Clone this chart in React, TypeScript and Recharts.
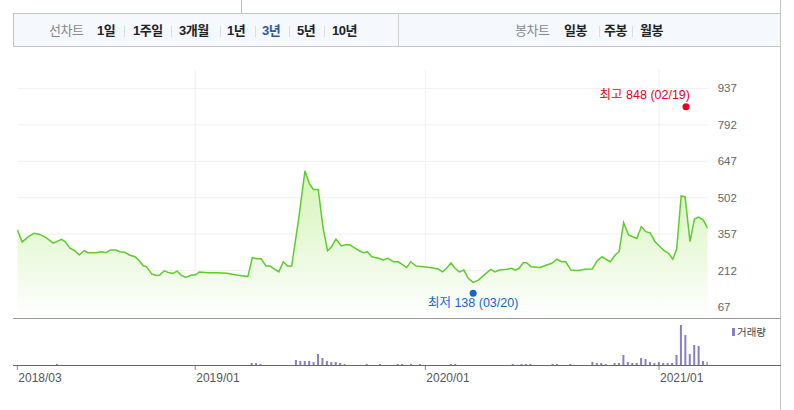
import React from 'react';
import { ComposedChart, Area, Bar, XAxis, YAxis, CartesianGrid, ReferenceDot } from 'recharts';

// price line: week index since 2018/03 start, weekly close
const weeks = [
  0, 1.1, 2.5, 3.8, 5.1, 6.5, 8.1, 10, 10.8, 11.9,
  13, 14, 15.1, 16, 17.6, 19.1, 20, 21.1, 22.3, 23.2,
  24.3, 25.3, 26.6, 27.6, 28.5, 29.2, 30.4, 31.5, 32.2, 33.2,
  34.3, 35.2, 36.1, 37, 38.1, 39.4, 40.2, 41.1, 43.2, 45.4,
  47.3, 49.9, 52.1, 53.1, 54.1, 55.1, 56.2, 57.1, 58.2, 59.1,
  60.1, 61.1, 62, 63.6, 65, 66, 66.9, 68, 69.1, 70.1,
  71, 72, 73.2, 74.3, 75.2, 76.3, 77.4, 78.2, 79.1, 80.1,
  81.6, 82.7, 83.8, 85, 86.1, 88, 88.9, 90.1, 91.8, 93.6,
  95.1, 96.1, 97, 98, 98.9, 99.9, 100.9, 101.9, 103, 104.2,
  105.7, 107, 107.9, 108.9, 110.6, 111.7, 112.5, 113.4, 114.3, 115.1,
  116.1, 118.1, 119.6, 120.8, 121.9, 123, 123.9, 125.1, 126.7, 128.3,
  129.9, 131, 132.1, 133, 134, 135.1, 136, 137, 138.1, 140,
  141, 142, 143, 144.1, 145.2, 146.2, 147.1, 148.1, 149, 150,
  150.9, 152, 153, 153.9, 155, 156,
];
const prices = [
  375, 326, 347, 360, 356, 343, 321, 336, 327, 301,
  291, 274, 291, 283, 283, 287, 283, 294, 294, 287,
  285, 274, 267, 250, 231, 227, 198, 192, 194, 211,
  203, 201, 210, 194, 185, 194, 194, 206, 203, 203,
  201, 193, 188, 263, 259, 259, 230, 230, 217, 207,
  247, 230, 230, 421, 609, 558, 535, 535, 381, 291,
  307, 337, 310, 316, 314, 301, 290, 283, 287, 267,
  261, 254, 261, 247, 247, 224, 247, 230, 227, 223,
  218, 207, 221, 242, 221, 207, 214, 181, 165, 174,
  198, 217, 207, 214, 217, 221, 214, 221, 243, 243,
  227, 224, 234, 241, 257, 247, 247, 214, 212, 217,
  218, 250, 267, 257, 247, 274, 288, 403, 354, 340,
  387, 367, 362, 327, 308, 290, 282, 257, 298, 509,
  505, 327, 417, 425, 413, 380,
];

// volume bars
const volWeeks = [
  9, 53, 54, 55, 63, 64, 65, 66, 67, 68, 69, 70, 71, 72, 73, 74,
  79, 82, 86, 87, 89, 91, 98, 99, 112, 114, 115, 116, 121, 122, 125,
  130, 131, 132, 133, 135, 136, 137, 138, 139, 140, 141, 142, 143, 144,
  145, 146, 147, 148, 149, 150, 151, 152, 153, 154, 155, 156,
];
const volumes = [
  1, 2, 2, 1, 5, 4, 4, 4, 3, 11, 7, 4, 3, 3, 2, 1,
  1, 1, 1, 1, 1, 1, 1, 1, 1, 1, 1, 1, 1, 1, 1,
  3, 2, 2, 1, 2, 2, 10, 3, 2, 2, 7, 6, 3, 2,
  3, 2, 2, 2, 10, 40, 30, 11, 20, 19, 4, 3,
];

const priceTicks = [67, 212, 357, 502, 647, 792, 937];
const dateTickWeeks = [0, 40.2, 92.2, 145];
const dateTickLabels = ['2018/03', '2019/01', '2020/01', '2021/01'];
const highMark = { week: 151.1, value: 848, label: '최고 848 (02/19)' };
const lowMark = { week: 103.0, value: 138, label: '최저 138 (03/20)' };

const lineTabs = ['1일', '1주일', '3개월', '1년', '3년', '5년', '10년'];
const candleTabs = ['일봉', '주봉', '월봉'];
const selectedLineTab = '3년';

const priceData = weeks.map((w, i) => ({ w, p: prices[i] }));
const volData = volWeeks.map((w, i) => ({ w, v: volumes[i] }));

const FONT = '"Liberation Sans", "Noto Sans CJK KR", sans-serif';

// layout (pixels) for toolbar items
const lineTabLeft = [97, 133, 179, 227, 262, 297, 332];
const lineSepLeft = [124, 171, 220, 255, 289, 324];
const candleTabLeft = [564, 604, 640];
const candleSepLeft = [599, 632];

const DateTick = (props: any) => {
  const { x, y, payload } = props;
  const idx = dateTickWeeks.indexOf(payload.value);
  return (
    <text x={x + 1} y={y + 10} textAnchor="start" fill="#555" fontSize={12} fontFamily={FONT}>
      {dateTickLabels[idx]}
    </text>
  );
};

const HighShape = (props: any) => (
  <g>
    <circle cx={props.cx} cy={props.cy - 4} r={3.5} fill="#e8001c" />
    <text x={props.cx + 4} y={props.cy - 11.5} textAnchor="end" fill="#e8001c" fontSize={12.5} fontFamily={FONT}>
      {highMark.label}
    </text>
  </g>
);

const LowShape = (props: any) => (
  <g>
    <circle cx={props.cx} cy={props.cy + 4} r={3.5} fill="#1565d0" />
    <text x={props.cx} y={props.cy + 18} textAnchor="middle" fill="#1565d0" fontSize={12.5} fontFamily={FONT}>
      {lowMark.label}
    </text>
  </g>
);

const tabStyle = (left: number, active: boolean): React.CSSProperties => ({
  position: 'absolute',
  left,
  top: 22,
  fontSize: 13,
  fontWeight: 'bold',
  lineHeight: '18px',
  color: active ? '#2c57a6' : '#222',
  letterSpacing: -0.5,
  whiteSpace: 'nowrap',
});

const sepStyle = (left: number): React.CSSProperties => ({
  position: 'absolute',
  left,
  top: 26,
  width: 1,
  height: 11,
  background: '#dcdcdc',
});

export default function App() {
  return (
    <div style={{ position: 'absolute', left: 0, top: 0, width: 794, height: 410, background: '#fff', fontFamily: FONT, overflow: 'hidden' }}>
      {/* frame lines */}
      <div style={{ position: 'absolute', left: 241, top: 0, width: 1, height: 13, background: '#bdbdbd' }} />
      <div style={{ position: 'absolute', left: 780, top: 0, width: 1, height: 410, background: '#c4c4c4' }} />
      {/* toolbar */}
      <div style={{ position: 'absolute', left: 13, top: 13, width: 766, height: 32, border: '1px solid #c4c4c4', background: '#f5f8fc' }} />
      <div style={{ position: 'absolute', left: 398, top: 13, width: 1, height: 34, background: '#d0d0d0' }} />
      <div style={{ position: 'absolute', left: 49, top: 22, fontSize: 13, lineHeight: '18px', color: '#888', letterSpacing: -0.5 }}>선차트</div>
      {lineTabs.map((t, i) => (
        <div key={t} style={tabStyle(lineTabLeft[i], t === selectedLineTab)}>{t}</div>
      ))}
      {lineSepLeft.map((l) => <div key={l} style={sepStyle(l)} />)}
      <div style={{ position: 'absolute', left: 515, top: 22, fontSize: 13, lineHeight: '18px', color: '#888', letterSpacing: -0.5 }}>봉차트</div>
      {candleTabs.map((t, i) => (
        <div key={t} style={tabStyle(candleTabLeft[i], false)}>{t}</div>
      ))}
      {candleSepLeft.map((l) => <div key={l} style={sepStyle(l)} />)}

      {/* price chart */}
      <div style={{ position: 'absolute', left: 0, top: 0 }}>
        <ComposedChart width={794} height={318} data={priceData} margin={{ top: 70, right: 26.3, bottom: 0, left: 17.3 }}>
          <defs>
            <linearGradient id="priceFill" x1="0" y1="0" x2="0" y2="1">
              <stop offset="0%" stopColor="#cff3b0" stopOpacity={0.9} />
              <stop offset="100%" stopColor="#ffffff" stopOpacity={0.95} />
            </linearGradient>
          </defs>
          <CartesianGrid
            stroke="#efefef"
            syncWithTicks
            horizontalValues={priceTicks}
            verticalValues={dateTickWeeks.slice(1)}
          />
          <XAxis type="number" dataKey="w" domain={[0, 156]} hide allowDataOverflow />
          <YAxis
            orientation="right"
            width={60}
            domain={[23.2, 1010.3]}
            ticks={priceTicks}
            interval={0}
            allowDataOverflow
            axisLine={false}
            tickLine={false}
            tickSize={6}
            tickMargin={4}
            tick={{ fill: '#666', fontSize: 11.5, fontFamily: FONT }}
          />
          <Area
            type="linear"
            dataKey="p"
            stroke="#5ccd2b"
            strokeWidth={1.5}
            fill="url(#priceFill)"
            fillOpacity={1}
            dot={false}
            activeDot={false}
            isAnimationActive={false}
          />
          <ReferenceDot x={highMark.week} y={highMark.value} r={3} shape={HighShape} />
          <ReferenceDot x={lowMark.week} y={lowMark.value} r={3} shape={LowShape} />
        </ComposedChart>
      </div>

      {/* volume chart */}
      <div style={{ position: 'absolute', left: 0, top: 318 }}>
        <ComposedChart width={794} height={92} data={volData} margin={{ top: 2, right: 86.3, bottom: 15, left: 17.3 }}>
          <XAxis
            type="number"
            dataKey="w"
            domain={[0, 156]}
            ticks={dateTickWeeks}
            interval={0}
            allowDataOverflow
            axisLine={false}
            tickLine={{ stroke: '#888' }}
            tickSize={5}
            tickMargin={2}
            height={30}
            tick={<DateTick />}
          />
          <YAxis hide domain={[0, 45]} allowDataOverflow />
          <Bar dataKey="v" fill="#8b7dc8" barSize={2} isAnimationActive={false} />
        </ComposedChart>
      </div>

      {/* panel lines */}
      <div style={{ position: 'absolute', left: 13, top: 318, width: 768, height: 1, background: '#9a9a9a' }} />
      <div style={{ position: 'absolute', left: 13, top: 365, width: 768, height: 1, background: '#666' }} />

      {/* volume legend */}
      <div style={{ position: 'absolute', left: 732, top: 328, width: 3, height: 8, background: '#8b7dc8' }} />
      <div style={{ position: 'absolute', left: 737, top: 325, fontSize: 10.5, lineHeight: '15px', color: '#444' }}>거래량</div>
    </div>
  );
}
